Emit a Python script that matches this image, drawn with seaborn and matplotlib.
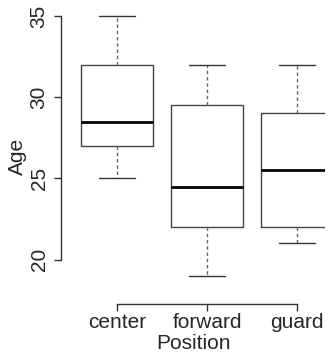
import seaborn as sns
import matplotlib.pyplot as plt
import pandas as pd

# five-number summaries, one list per position
positions = ["center", "forward", "guard"]
center_age = [25, 27, 28.5, 32, 35]
forward_age = [19, 22, 24.5, 29.5, 32]
guard_age = [21, 22, 25.5, 29, 32]
y_ticks = [20, 25, 30, 35]

df = pd.DataFrame({
    "Position": ["center"] * len(center_age) + ["forward"] * len(forward_age) + ["guard"] * len(guard_age),
    "Age": center_age + forward_age + guard_age,
})

sns.set_style("white")
plt.rcParams["font.family"] = ["Liberation Sans", "DejaVu Sans"]

fig = plt.figure(figsize=(3.33, 3.53), dpi=100)
ax = fig.add_axes([0.1832, 0.14, 0.7928, 0.8317])

sns.boxplot(data=df, x="Position", y="Age", order=positions, ax=ax,
            fill=False, width=0.8, whis=1.5, color="#444444", linewidth=1,
            whiskerprops={"linestyle": (0, (2.5, 2)), "color": "#666666"},
            capprops={"color": "#333333"},
            medianprops={"color": "black", "linewidth": 2})

ax.set_xlim(-0.622, 2.311)
ax.set_ylim(17.3, 35.37)

for side in ["top", "right"]:
    ax.spines[side].set_visible(False)
for side in ["left", "bottom"]:
    ax.spines[side].set_color("#333333")
    ax.spines[side].set_linewidth(1)
ax.spines["left"].set_bounds(20, 35)
ax.spines["bottom"].set_bounds(0, 2)

ax.set_yticks(y_ticks)
ax.set_yticklabels([str(t) for t in y_ticks], rotation=90, va="center")
ax.tick_params(axis="both", length=5, width=1, color="#333333", labelsize=15,
               left=True, bottom=True, direction="out")
ax.tick_params(axis="x", pad=2)
ax.tick_params(axis="y", pad=4)
ax.set_xlabel("Position", fontsize=15, labelpad=1.5)
ax.set_ylabel("Age", fontsize=15, labelpad=2)

fig.savefig("out.png", dpi=100)
